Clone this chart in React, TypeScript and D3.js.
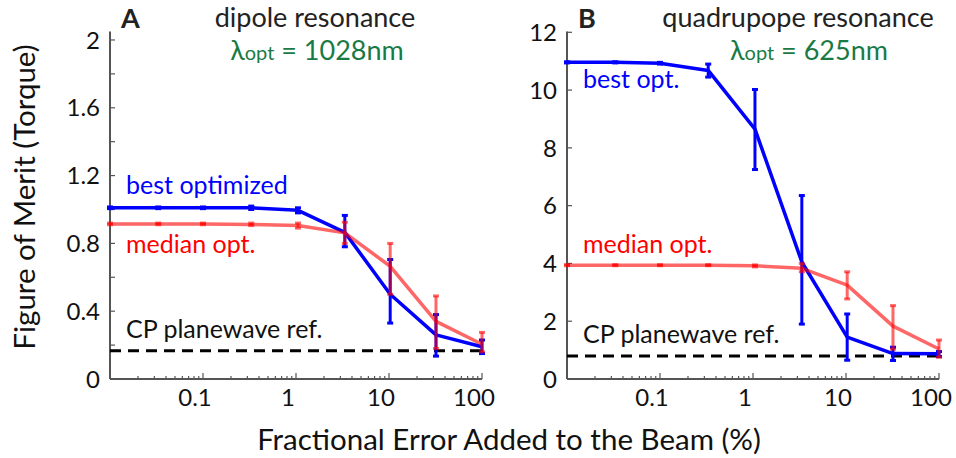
import React from "react";
import * as d3 from "d3";

// ---- data ----
const errorPct = [0.01, 0.033, 0.1, 0.33, 1.05, 3.35, 10.3, 32, 100];

const bestA = [1.01, 1.01, 1.01, 1.01, 0.995, 0.865, 0.5, 0.26, 0.19];
const bestALo = [1.005, 1.005, 1.005, 1.0, 0.98, 0.78, 0.33, 0.135, 0.15];
const bestAHi = [1.015, 1.015, 1.015, 1.02, 1.01, 0.965, 0.705, 0.38, 0.23];
const medianA = [0.915, 0.915, 0.915, 0.912, 0.905, 0.862, 0.665, 0.34, 0.205];
const medianALo = [0.91, 0.91, 0.91, 0.905, 0.89, 0.8, 0.5, 0.18, 0.16];
const medianAHi = [0.92, 0.92, 0.92, 0.92, 0.92, 0.925, 0.8, 0.49, 0.275];
const refA = 0.167;

const bestB = [10.96, 10.96, 10.93, 10.68, 8.65, 4.05, 1.45, 0.88, 0.87];
const bestBLo = [10.94, 10.94, 10.9, 10.45, 7.25, 1.9, 0.65, 0.64, 0.78];
const bestBHi = [10.98, 10.98, 10.96, 10.9, 10.02, 6.35, 2.25, 1.1, 0.95];
const medianB = [3.94, 3.94, 3.94, 3.94, 3.92, 3.83, 3.25, 1.83, 1.04];
const medianBLo = [3.92, 3.92, 3.92, 3.92, 3.88, 3.71, 2.77, 1.03, 0.75];
const medianBHi = [3.96, 3.96, 3.96, 3.96, 3.95, 4.0, 3.71, 2.54, 1.35];
const refB = 0.8;

const xTickLabels = ["0.1", "1", "10", "100"];
const xTickValues = [0.1, 1, 10, 100];
const yTicksA = [0, 0.2, 0.4, 0.6, 0.8, 1.0, 1.2, 1.4, 1.6, 1.8, 2.0];
const yLabelsA = [0, 0.4, 0.8, 1.2, 1.6, 2];
const yTicksB = [0, 2, 4, 6, 8, 10, 12];

const FONT = "Lato, 'Open Sans', sans-serif";
const BLUE = "#0000ff";
const RED = "#ff0000";
const GREEN = "#1a7a45";
const AXIS = "#555";

type PanelProps = {
  x0: number;
  x1: number;
  yTop: number;
  yMax: number;
  best: number[];
  bestLo: number[];
  bestHi: number[];
  median: number[];
  medianLo: number[];
  medianHi: number[];
  ref: number;
  yTicks: number[];
  yLabels: number[];
  letter: string;
  title: string;
  lambda: string;
  titleX: number;
  lambdaX: number;
  bestLabel: string;
  bestLabelY: number;
  medianLabelY: number;
  refLabelY: number;
};

function Panel(p: PanelProps) {
  const yBase = 379;
  const x = d3.scaleLog().domain([0.01, 100]).range([p.x0, p.x1]);
  const y = d3.scaleLinear().domain([0, p.yMax]).range([yBase, p.yTop]);
  const line = d3
    .line<number>()
    .x((_, i) => x(errorPct[i]))
    .y((v) => y(v));

  const minor: number[] = [];
  for (let e = -2; e < 2; e++) {
    for (let k = 2; k <= 9; k++) minor.push(k * Math.pow(10, e));
  }
  const decades = [0.01, 0.1, 1, 10, 100];

  const errBars = (lo: number[], hi: number[], color: string, op: number) =>
    errorPct.map((e, i) => {
      const cx = x(e);
      return (
        <g key={i} stroke={color} strokeOpacity={op} strokeWidth={3}>
          <line x1={cx} x2={cx} y1={y(lo[i])} y2={y(hi[i])} />
          <line x1={cx - 3} x2={cx + 3} y1={y(lo[i])} y2={y(lo[i])} />
          <line x1={cx - 3} x2={cx + 3} y1={y(hi[i])} y2={y(hi[i])} />
        </g>
      );
    });

  const lx = p.x0 + 16;
  return (
    <g>
      {/* axes */}
      <line x1={p.x0} x2={p.x0} y1={31.5} y2={yBase} stroke={AXIS} strokeWidth={2} />
      <line x1={p.x0} x2={p.x1} y1={yBase} y2={yBase} stroke={AXIS} strokeWidth={2} />
      {p.yTicks.map((t) => (
        <line key={t} x1={p.x0} x2={p.x0 + 5} y1={y(t)} y2={y(t)} stroke={AXIS} strokeWidth={1.2} />
      ))}
      {p.yLabels.map((t) => (
        <text key={t} x={p.x0 - 10} y={y(t)} dy="0.36em" textAnchor="end" fontSize={24} fontFamily={FONT} fill="#111">
          {String(t)}
        </text>
      ))}
      {minor.map((t) => (
        <line key={t} x1={x(t)} x2={x(t)} y1={yBase} y2={yBase - 3} stroke={AXIS} strokeWidth={1.2} />
      ))}
      {decades.map((t) => (
        <line key={t} x1={x(t)} x2={x(t)} y1={yBase} y2={yBase - 6} stroke={AXIS} strokeWidth={1.2} />
      ))}
      {xTickValues.map((t, i) => (
        <text key={t} x={x(t) - 8} y={406} textAnchor="middle" fontSize={24} fontFamily={FONT} fill="#111">
          {xTickLabels[i]}
        </text>
      ))}

      {/* reference dashed line */}
      <line x1={p.x0} x2={p.x1} y1={y(p.ref)} y2={y(p.ref)} stroke="#000" strokeWidth={3} strokeDasharray="11 7" />

      {/* best */}
      <path d={line(p.best) || ""} fill="none" stroke={BLUE} strokeWidth={3.5} strokeLinejoin="round" />
      {errBars(p.bestLo, p.bestHi, BLUE, 1)}
      {/* median */}
      <g>
        <path d={line(p.median) || ""} fill="none" stroke={RED} strokeOpacity={0.6} strokeWidth={3.5} strokeLinejoin="round" />
        {errBars(p.medianLo, p.medianHi, RED, 0.6)}
      </g>

      {/* labels */}
      <text x={lx} y={p.bestLabelY} fontSize={25} fontFamily={FONT} fill={BLUE}>{p.bestLabel}</text>
      <text x={lx} y={p.medianLabelY} fontSize={25} fontFamily={FONT} fill={RED}>median opt.</text>
      <text x={lx} y={p.refLabelY} fontSize={25} fontFamily={FONT} fill="#111">CP planewave ref.</text>

      <text x={p.x0 + 11} y={28} fontSize={27} fontWeight="bold" fontFamily={FONT} fill="#222">{p.letter}</text>
      <text x={p.titleX} y={27} textAnchor="middle" fontSize={27} fontFamily={FONT} fill="#222">{p.title}</text>
      <text x={p.lambdaX} y={60} textAnchor="middle" fontFamily={FONT} fill={GREEN}>
        <tspan fontSize={27}>λ</tspan>
        <tspan fontSize={20}>opt</tspan>
        <tspan fontSize={27}>{" = " + p.lambda}</tspan>
      </text>
    </g>
  );
}

export default function App() {
  return (
    <svg width={956} height={458} style={{ position: "absolute", left: 0, top: 0, background: "#fff" }}>
      <rect width={956} height={458} fill="#fff" />
      <Panel
        x0={110}
        x1={482}
        yTop={31.5}
        yMax={2.05}
        best={bestA}
        bestLo={bestALo}
        bestHi={bestAHi}
        median={medianA}
        medianLo={medianALo}
        medianHi={medianAHi}
        ref={refA}
        yTicks={yTicksA}
        yLabels={yLabelsA}
        letter="A"
        title="dipole resonance"
        lambda="1028nm"
        titleX={315}
        lambdaX={317}
        bestLabel="best optimized"
        bestLabelY={194}
        medianLabelY={253}
        refLabelY={338}
      />
      <Panel
        x0={567}
        x1={939}
        yTop={32.3}
        yMax={12}
        best={bestB}
        bestLo={bestBLo}
        bestHi={bestBHi}
        median={medianB}
        medianLo={medianBLo}
        medianHi={medianBHi}
        ref={refB}
        yTicks={yTicksB}
        yLabels={yTicksB}
        letter="B"
        title="quadrupope resonance"
        lambdaX={809}
        titleX={798}
        lambda="625nm"
        bestLabel="best opt."
        bestLabelY={88}
        medianLabelY={253}
        refLabelY={343}
      />
      <text transform="translate(35,197) rotate(-90)" textAnchor="middle" fontSize={29.5} fontFamily={FONT} fill="#111">
        Figure of Merit (Torque)
      </text>
      <text x={509} y={450} textAnchor="middle" fontSize={29.5} fontFamily={FONT} fill="#111">
        Fractional Error Added to the Beam (%)
      </text>
    </svg>
  );
}
